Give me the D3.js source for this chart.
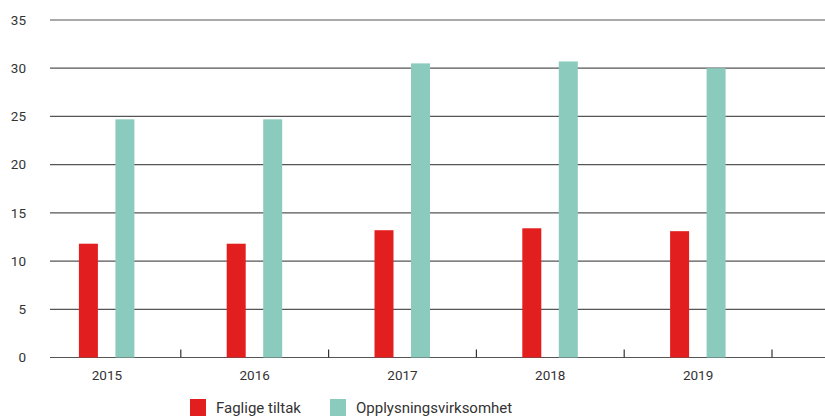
<!DOCTYPE html>
<html><head><meta charset="utf-8">
<script src="https://cdn.jsdelivr.net/npm/d3@7"></script>
<style>body{margin:0;background:#fff}svg{display:block;font-family:Roboto,"DejaVu Sans",sans-serif}</style>
</head><body><svg id="c" width="825" height="416"></svg>
<script>
const categories = ["2015","2016","2017","2018","2019"];
const seriesNames = ["Faglige tiltak","Opplysningsvirksomhet"];
const faglige = [11.8, 11.8, 13.2, 13.4, 13.1];
const opplysning = [24.7, 24.7, 30.5, 30.7, 30.0];
const yTicks = [0,5,10,15,20,25,30,35];
const colors = ["#e31e1e","#8bcbbd"];

const svg = d3.select("#c");
const x = d3.scaleBand().domain(categories).range([33, 772]);
const y = d3.scaleLinear().domain([0,35]).range([357.5, 20]);

// gridlines
svg.append("g").selectAll("line").data(yTicks).join("line")
  .attr("x1",50).attr("x2",825)
  .attr("y1",d=>y(d)).attr("y2",d=>y(d))
  .attr("stroke","#555").attr("stroke-width",1.2);

// y labels
svg.append("g").selectAll("text").data(yTicks).join("text")
  .attr("x",26).attr("y",d=>y(d)).attr("dy","0.35em")
  .attr("text-anchor","end").attr("font-size",13.5).attr("fill","#333").text(d=>d);

// bars
const series = [faglige, opplysning];
const offsets = [-18.5, 18];
const bw = 19;
series.forEach((vals,si)=>{
  svg.append("g").selectAll("rect").data(categories).join("rect")
    .attr("x",(d)=>x(d)+x.bandwidth()/2+offsets[si]-bw/2)
    .attr("width",bw)
    .attr("y",(d,i)=>y(vals[i]))
    .attr("height",(d,i)=>y(0)-y(vals[i]))
    .attr("fill",colors[si]);
});

// x axis ticks at band boundaries
svg.append("g").selectAll("line").data(categories).join("line")
  .attr("x1",d=>x(d)+x.bandwidth()).attr("x2",d=>x(d)+x.bandwidth())
  .attr("y1",y(0)-8).attr("y2",y(0))
  .attr("stroke","#333").attr("stroke-width",1.2);

svg.append("g").selectAll("text").data(categories).join("text")
  .attr("x",d=>x(d)+x.bandwidth()/2).attr("y",380)
  .attr("text-anchor","middle").attr("font-size",13.5).attr("fill","#333").text(d=>d);

// legend
const legX = [190, 330];
seriesNames.forEach((n,i)=>{
  svg.append("rect").attr("x",legX[i]).attr("y",399).attr("width",16).attr("height",17).attr("fill",colors[i]);
  svg.append("text").attr("x",legX[i]+26).attr("y",413).attr("font-size",15).attr("fill","#333").text(n);
});
</script></body></html>
